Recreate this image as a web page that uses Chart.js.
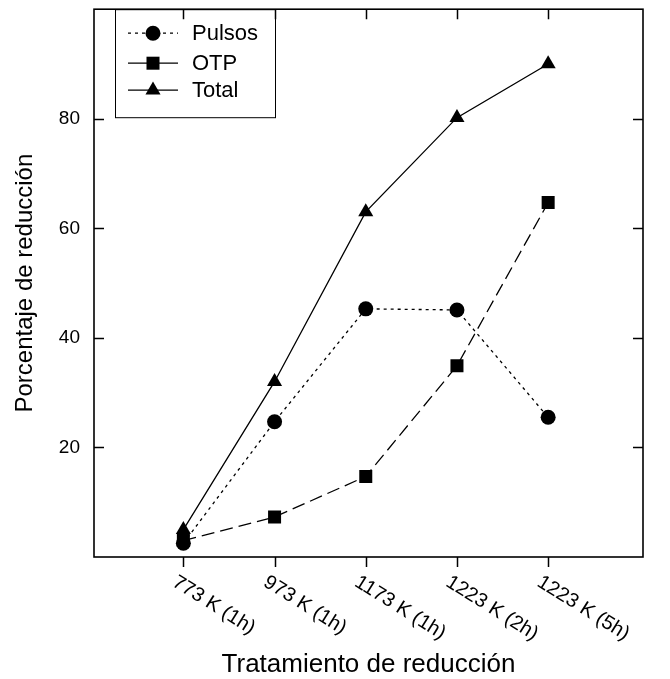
<!DOCTYPE html>
<html>
<head>
<meta charset="utf-8">
<script src="https://cdn.jsdelivr.net/npm/chart.js@4/dist/chart.umd.min.js"></script>
<style>
  html, body { margin: 0; padding: 0; background: #fff; }
  #wrap { width: 670px; height: 679px; position: relative; }
</style>
</head>
<body>
<div id="wrap"><canvas id="c"></canvas></div>
<script>
// Reduction treatments (x categories)
const treatments = ['773 K (1h)', '973 K (1h)', '1173 K (1h)', '1223 K (2h)', '1223 K (5h)'];
// Reduction percentage per method
const pulsos = [2.5, 24.7, 45.3, 45.1, 25.5];
const otp    = [3.0, 7.3, 14.7, 34.9, 64.7];
const total  = [5.0, 32.0, 63.0, 80.2, 90.0];
// Labelled ticks on the value axis
const yTickValues = [20, 40, 60, 80];

const FONT = "'Liberation Sans', Arial, Helvetica, sans-serif";
Chart.defaults.font.family = FONT;
Chart.defaults.color = '#000';

const toPoints = arr => arr.map((v, i) => ({ x: i, y: v }));

// Marker shapes using the same geometry as Chart.js point styles
function drawMarker(ctx, style, r, cx, cy) {
  ctx.beginPath();
  if (style === 'circle') {
    ctx.arc(cx, cy, r, 0, Math.PI * 2);
  } else if (style === 'rect') {
    const s = Math.SQRT1_2 * r;
    ctx.rect(cx - s, cy - s, 2 * s, 2 * s);
  } else if (style === 'triangle') {
    let a = 0;
    ctx.moveTo(cx + Math.sin(a) * r, cy - Math.cos(a) * r);
    a += 2 * Math.PI / 3;
    ctx.lineTo(cx + Math.sin(a) * r, cy - Math.cos(a) * r);
    a += 2 * Math.PI / 3;
    ctx.lineTo(cx + Math.sin(a) * r, cy - Math.cos(a) * r);
    ctx.closePath();
  }
  ctx.fill();
}

// Keep the plot area edges fixed: no extra room for half-labels
function fixBox(size, key) {
  return s => {
    s[key] = size;
    s.paddingTop = 0; s.paddingBottom = 0;
    s.paddingLeft = 0; s.paddingRight = 0;
  };
}

const frameAndLabels = {
  id: 'frameAndLabels',
  afterDraw(chart) {
    const { ctx, chartArea: a, scales: { x, y } } = chart;
    ctx.save();
    ctx.strokeStyle = '#000';
    ctx.fillStyle = '#000';

    // plot frame
    ctx.lineWidth = 1.6;
    ctx.setLineDash([]);
    ctx.strokeRect(a.left, a.top, a.right - a.left, a.bottom - a.top);

    // tick marks: inward on left/right/top, outward on bottom
    ctx.lineWidth = 1.5;
    ctx.beginPath();
    yTickValues.forEach(v => {
      const py = Math.round(y.getPixelForValue(v)) + 0.5;
      ctx.moveTo(a.left, py); ctx.lineTo(a.left + 10, py);
      ctx.moveTo(a.right, py); ctx.lineTo(a.right - 10, py);
    });
    treatments.forEach((t, i) => {
      const px = Math.round(x.getPixelForValue(i)) + 0.5;
      ctx.moveTo(px, a.bottom); ctx.lineTo(px, a.bottom + 10);
      ctx.moveTo(px, a.top); ctx.lineTo(px, a.top + 10);
    });
    ctx.stroke();

    // slanted category labels hanging from each tick
    ctx.font = '20px ' + FONT;
    ctx.textAlign = 'left';
    ctx.textBaseline = 'top';
    treatments.forEach((t, i) => {
      const px = x.getPixelForValue(i);
      ctx.save();
      ctx.translate(px - 4, a.bottom + 15);
      ctx.rotate(32 * Math.PI / 180);
      ctx.fillText(t, 0, 0);
      ctx.restore();
    });

    // legend box in the upper-left corner of the plot
    const lx = 115, ly = a.top, lw = 160, lh = 108;
    ctx.lineWidth = 1;
    ctx.strokeRect(lx + 0.5, ly + 0.5, lw, lh);
    const rows = [a.top + 24, a.top + 54, a.top + 81];
    chart.data.datasets.forEach((ds, k) => {
      const ry = rows[k];
      ctx.lineWidth = ds.borderWidth;
      ctx.setLineDash(k === 0 ? ds.borderDash : []);
      ctx.beginPath();
      ctx.moveTo(128, ry); ctx.lineTo(178, ry);
      ctx.stroke();
      ctx.setLineDash([]);
      drawMarker(ctx, ds.pointStyle, ds.pointRadius, 153, ry);
      ctx.font = '22px ' + FONT;
      ctx.textAlign = 'left';
      ctx.textBaseline = 'middle';
      ctx.fillText(ds.label, 192, ry + 1);
    });
    ctx.restore();
  }
};

new Chart(document.getElementById('c'), {
  type: 'line',
  data: {
    datasets: [
      {
        label: 'Pulsos', data: toPoints(pulsos),
        borderColor: '#000', backgroundColor: '#000', borderWidth: 1.3,
        borderDash: [3, 4], pointStyle: 'circle', pointRadius: 7.5,
        pointBorderWidth: 0, pointHoverRadius: 7.5
      },
      {
        label: 'OTP', data: toPoints(otp),
        borderColor: '#000', backgroundColor: '#000', borderWidth: 1.3,
        borderDash: [13, 6], pointStyle: 'rect', pointRadius: 9.2,
        pointBorderWidth: 0, pointHoverRadius: 9.2
      },
      {
        label: 'Total', data: toPoints(total),
        borderColor: '#000', backgroundColor: '#000', borderWidth: 1.3,
        borderDash: [], pointStyle: 'triangle', pointRadius: 8.7,
        pointBorderWidth: 0, pointHoverRadius: 8.7
      }
    ]
  },
  options: {
    responsive: true,
    maintainAspectRatio: false,
    animation: false,
    devicePixelRatio: 1,
    layout: { padding: { top: 9, right: 27, left: 0, bottom: 0 } },
    plugins: { legend: { display: false }, tooltip: { enabled: false } },
    elements: { line: { tension: 0, fill: false } },
    scales: {
      x: {
        type: 'linear', min: -0.98, max: 5.04,
        grid: { display: false, drawTicks: false },
        border: { display: false },
        ticks: { display: false },
        afterFit: fixBox(122, 'height'),
        title: {
          display: true, text: 'Tratamiento de reducción', color: '#000',
          font: { size: 26, family: FONT, lineHeight: 1.1 },
          padding: { top: 0, bottom: 0 }
        }
      },
      y: {
        type: 'linear', min: 0, max: 100,
        grid: { display: false, drawTicks: false },
        border: { display: false },
        afterBuildTicks: s => { s.ticks = yTickValues.map(v => ({ value: v })); },
        ticks: { color: '#000', font: { size: 19, family: FONT }, padding: 14 },
        afterFit: fixBox(94, 'width'),
        title: {
          display: true, text: 'Porcentaje de reducción', color: '#000',
          font: { size: 24, family: FONT, lineHeight: 1.2 },
          padding: { top: 11, bottom: 0 }
        }
      }
    }
  },
  plugins: [frameAndLabels]
});
</script>
</body>
</html>
